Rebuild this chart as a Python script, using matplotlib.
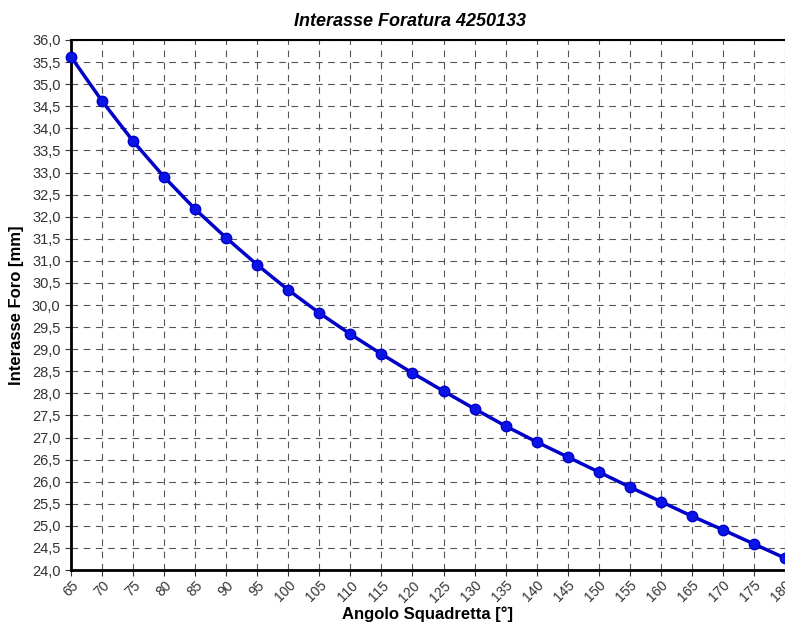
import matplotlib.pyplot as plt
from matplotlib.ticker import MultipleLocator, FuncFormatter

# Dati
angolo = [65, 70, 75, 80, 85, 90, 95, 100, 105, 110, 115, 120,
          125, 130, 135, 140, 145, 150, 155, 160, 165, 170, 175, 180]
interasse = [35.62, 34.62, 33.71, 32.90, 32.17, 31.52, 30.91, 30.34,
             29.82, 29.34, 28.89, 28.46, 28.05, 27.65, 27.26, 26.90,
             26.56, 26.22, 25.88, 25.55, 25.22, 24.91, 24.59, 24.27]

plt.rcParams['font.family'] = ['Liberation Sans', 'DejaVu Sans']

fig = plt.figure(figsize=(7.85, 6.24), dpi=100)
ax = fig.add_axes([0.0904, 0.0865, 0.9096, 0.8494])

ax.plot(angolo, interasse, color='#0000c8', linewidth=2.5,
        marker='o', markersize=7.5, markerfacecolor='#0a14e6',
        markeredgecolor='#0000c8', clip_on=False, zorder=3)

ax.set_xlim(65, 180)
ax.set_ylim(24.0, 36.0)
ax.xaxis.set_major_locator(MultipleLocator(5))
ax.yaxis.set_major_locator(MultipleLocator(0.5))
ax.yaxis.set_major_formatter(FuncFormatter(lambda v, p: f"{v:.1f}".replace('.', ',')))

ax.grid(True, color='#555555', linestyle=(0, (6, 5)), linewidth=0.8)
ax.tick_params(axis='y', labelsize=10.5, colors='#333333', length=4)
ax.tick_params(axis='x', labelsize=10, colors='#333333', length=4, pad=2)
plt.setp(ax.get_xticklabels(), rotation=45, ha='right', rotation_mode='anchor')

ax.spines['left'].set_linewidth(2)
ax.spines['bottom'].set_linewidth(2)
ax.spines['top'].set_linewidth(1.5)
ax.spines['right'].set_visible(False)

ax.set_ylabel('Interasse Foro [mm]', fontsize=12, fontweight='bold', labelpad=6)
fig.text(0.545, 0.004, 'Angolo Squadretta [°]', fontsize=12,
         fontweight='bold', ha='center', va='bottom')
fig.text(0.522, 0.965, 'Interasse Foratura 4250133', fontsize=13,
         fontweight='bold', fontstyle='italic', ha='center', va='center')

fig.savefig('out.png', dpi=100)
